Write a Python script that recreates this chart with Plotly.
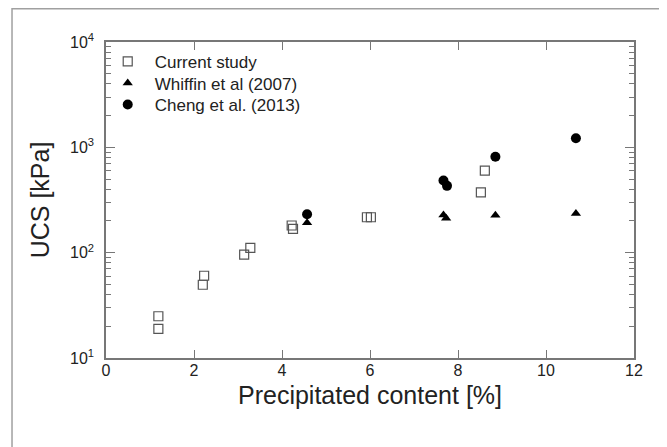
import plotly.graph_objects as go

# Current study
cur_x = [1.19, 1.19, 2.23, 2.20, 3.14, 3.28, 4.22, 4.25, 5.93, 6.02, 8.52, 8.61]
cur_y = [24.9, 18.9, 60.4, 49.6, 95.7, 111, 181, 168, 217, 217, 373, 600]
# Whiffin et al (2007)
wh_x = [4.57, 7.67, 7.73, 8.85, 10.68]
wh_y = [192, 228, 212, 226, 236]
# Cheng et al. (2013)
ch_x = [4.57, 7.67, 7.75, 8.85, 10.68]
ch_y = [232, 485, 431, 815, 1218]

y_tickvals = [10, 100, 1000, 10000]
y_ticktext = ["10<sup>1</sup>", "10<sup>2</sup>", "10<sup>3</sup>", "10<sup>4</sup>"]
y_minor = [20, 30, 40, 50, 60, 70, 80, 90,
           200, 300, 400, 500, 600, 700, 800, 900,
           2000, 3000, 4000, 5000, 6000, 7000, 8000, 9000]
x_tickvals = [0, 2, 4, 6, 8, 10, 12]

fig = go.Figure()
fig.add_trace(go.Scatter(x=cur_x, y=cur_y, mode="markers", name="Current study",
                         legend="legend",
                         marker=dict(symbol="square-open", size=9, color="#555555",
                                     line=dict(width=1.2, color="#555555"))))
fig.add_trace(go.Scatter(x=wh_x, y=wh_y, mode="markers", name="Whiffin et al (2007)",
                         legend="legend2",
                         marker=dict(symbol="triangle-up", size=9, color="black")))
fig.add_trace(go.Scatter(x=ch_x, y=ch_y, mode="markers", name="Cheng et al. (2013)",
                         legend="legend3",
                         marker=dict(symbol="circle", size=10, color="black")))

axis_col = "#777777"
leg_common = dict(x=-0.01, xanchor="left", yanchor="middle",
                  bgcolor="rgba(0,0,0,0)", font=dict(size=17), itemwidth=44)
fig.update_layout(
    width=659, height=439,
    margin=dict(l=98, r=33, t=34, b=89),
    paper_bgcolor="white", plot_bgcolor="white",
    font=dict(family="Liberation Sans, Arial", color="#222222", size=17),
    showlegend=True,
    legend=dict(y=0.937, **leg_common),
    legend2=dict(y=0.869, **leg_common),
    legend3=dict(y=0.801, **leg_common),
    xaxis=dict(range=[0, 12], tickvals=x_tickvals, ticks="inside", ticklen=8,
               tickcolor=axis_col, showline=True, linecolor=axis_col, linewidth=1.5,
               mirror="ticks", showgrid=False, zeroline=False, automargin=False,
               tickfont=dict(size=16), ticklabelstandoff=-3),
    yaxis=dict(type="log", range=[1, 4], tickvals=y_tickvals, ticktext=y_ticktext,
               ticks="inside", ticklen=9, tickcolor=axis_col,
               showline=True, linecolor=axis_col, linewidth=1.5,
               mirror="ticks", showgrid=False, zeroline=False, automargin=False,
               tickfont=dict(size=16), ticklabelstandoff=7,
               minor=dict(tickvals=y_minor, ticks="inside", ticklen=5,
                          tickcolor=axis_col, showgrid=False),
               title=dict(text="UCS [kPa]", font=dict(size=25), standoff=13)),
    annotations=[dict(text="Precipitated content [%]", xref="paper", yref="paper",
                      x=0.5, y=-0.117, xanchor="center", yanchor="middle",
                      showarrow=False, font=dict(size=25))],
    shapes=[dict(type="rect", xref="paper", yref="paper",
                 x0=-0.178, x1=1.053, y0=-0.3, y1=1.105,
                 line=dict(color="#a0a0a0", width=1.5), layer="below")],
)

fig.write_html("out.html")
